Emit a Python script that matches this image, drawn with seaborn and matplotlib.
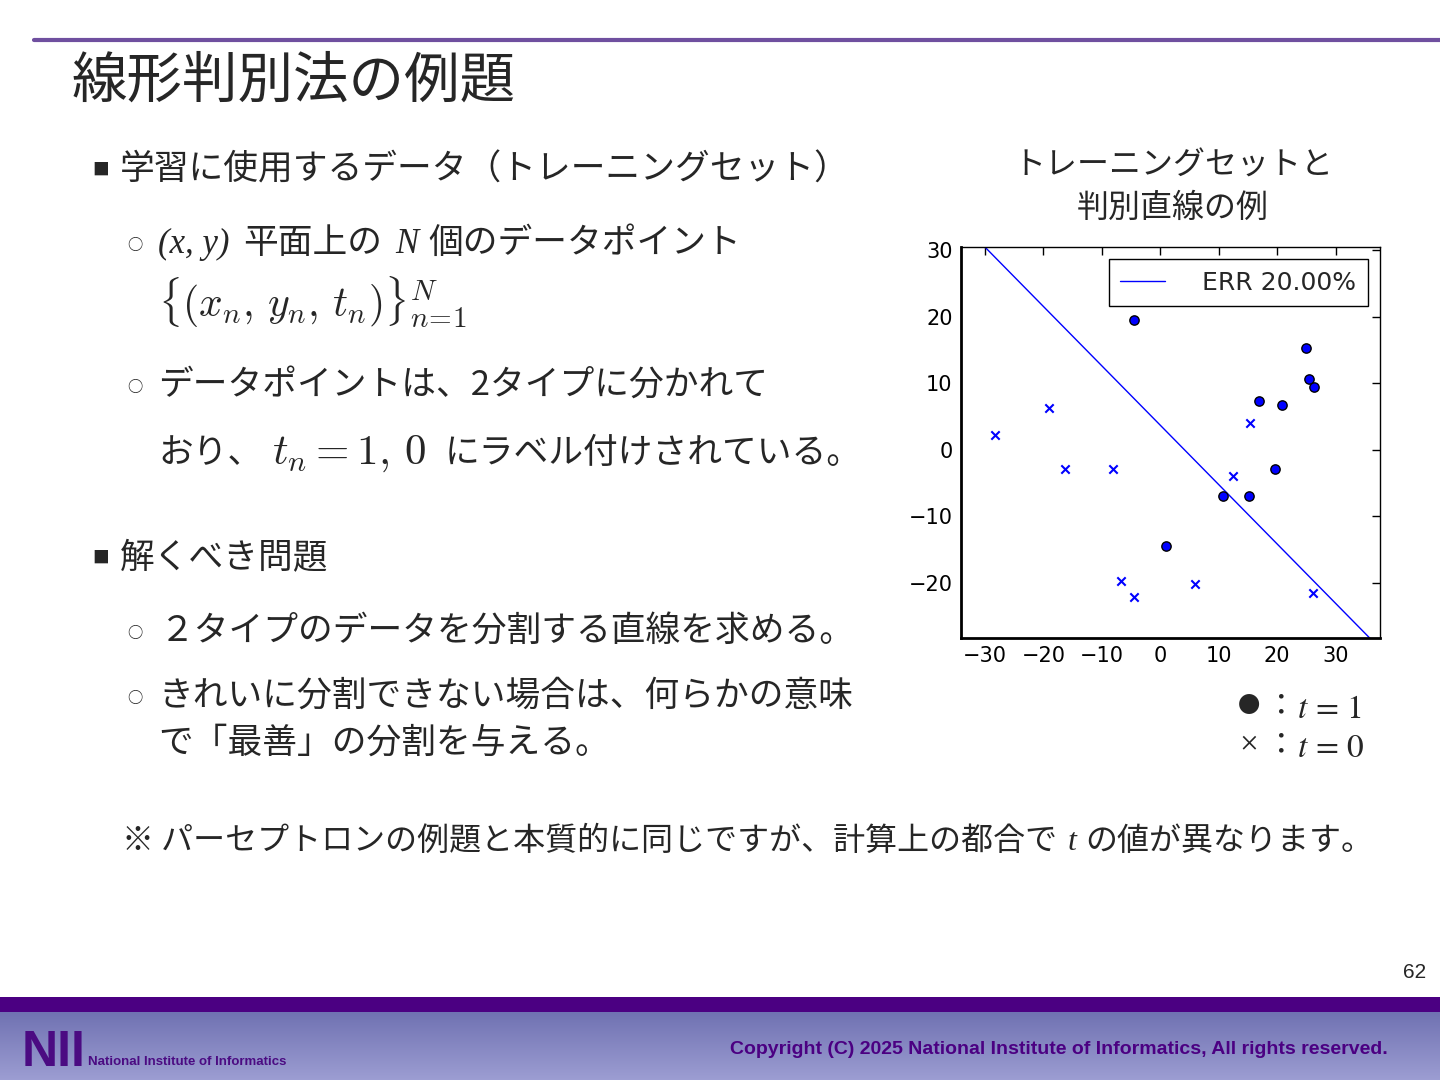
import numpy as np
import pandas as pd
import matplotlib
matplotlib.use('Agg')
import matplotlib.pyplot as plt
from matplotlib.patches import Rectangle
from matplotlib.colors import LinearSegmentedColormap
import seaborn as sns

# training set (t=1: dots, t=0: crosses)
t1_x = [-4.5, 24.9, 25.5, 26.3, 16.9, 20.8, 19.6, 10.8, 15.2, 1.0]
t1_y = [19.5, 15.3, 10.6, 9.5, 7.3, 6.7, -2.9, -6.9, -6.9, -14.4]
t0_x = [-28.3, -19.1, -16.3, -8.1, 15.3, 12.5, -6.8, -4.5, 6.0, 26.2]
t0_y = [2.3, 6.3, -2.9, -2.9, 4.1, -3.9, -19.8, -22.2, -20.2, -21.6]
# discriminant line y = slope*x + intercept
line_slope = -0.893
line_intercept = 3.7
err_rate = 20.0
x_ticks = [-30, -20, -10, 0, 10, 20, 30]
y_ticks = [-20, -10, 0, 10, 20, 30]
x_lim = (-34.1, 37.6)
y_lim = (-28.3, 30.5)

df = pd.DataFrame({'x': t1_x + t0_x, 'y': t1_y + t0_y,
                   't': [1] * len(t1_x) + [0] * len(t0_x)})

sns.set_style('white')
plt.rcParams['font.family'] = ['Noto Sans CJK JP', 'DejaVu Sans']

W, H = 1440, 1080
fig = plt.figure(figsize=(W / 100, H / 100), dpi=100)


def put(x, y, s, **kw):
    kw.setdefault('va', 'baseline')
    kw.setdefault('ha', 'left')
    return fig.text(x / W, 1 - y / H, s, **kw)


# slide background pieces (pixel coords)
bg = fig.add_axes([0, 0, 1, 1])
bg.patch.set_alpha(0)
grad = np.linspace(0, 1, 68).reshape(-1, 1)
cm_footer = LinearSegmentedColormap.from_list('footer', ['#7072b2', '#9c9dd2'])
bg.imshow(grad, extent=[0, W, H, 1012], cmap=cm_footer, aspect='auto')
bg.add_patch(Rectangle((0, 997), W, 15, color='#4b0082', lw=0))
bg.plot([34, W], [39.5, 39.5], color='#6f4f9f', lw=3)
bg.set_xlim(0, W)
bg.set_ylim(H, 0)
bg.axis('off')

serif = ['Liberation Serif', 'DejaVu Serif']

# title and bullets
put(72, 98, '線形判別法の例題', fontsize=40)
put(101, 175, '■', fontsize=12, ha='center')
put(120, 180, '学習に使用するデータ（トレーニングセット）', fontsize=25)
put(135, 250, '○', fontsize=11, ha='center')
put(158, 253, '(x, y)', fontsize=25, family=serif, style='italic')
put(243, 253, '平面上の', fontsize=25)
put(395, 253, 'N', fontsize=25, family=serif, style='italic')
put(428, 253, '個のデータポイント', fontsize=25)
put(158, 317, r'$\{(x_n,\, y_n,\, t_n)\}_{n\!=\!1}^N$', fontsize=30,
    math_fontfamily='cm')
put(135, 392, '○', fontsize=11, ha='center')
put(158, 395, 'データポイントは、2タイプに分かれて', fontsize=25)
put(158, 463, 'おり、', fontsize=25)
put(272, 464, r'$t_n = 1,\, 0$', fontsize=31, math_fontfamily='cm')
put(445, 463, 'にラベル付けされている。', fontsize=25)
put(101, 563, '■', fontsize=12, ha='center')
put(120, 568, '解くべき問題', fontsize=25)
put(135, 638, '○', fontsize=11, ha='center')
put(160, 641, '２タイプのデータを分割する直線を求める。', fontsize=25)
put(135, 703, '○', fontsize=11, ha='center')
put(158, 706, 'きれいに分割できない場合は、何らかの意味', fontsize=25)
put(158, 753, 'で「最善」の分割を与える。', fontsize=25)
put(122, 850, '※ パーセプトロンの例題と本質的に同じですが、計算上の都合で', fontsize=23)
put(1068, 850, 't', fontsize=23, family=serif, style='italic')
put(1085, 850, 'の値が異なります。', fontsize=23)

# chart title
put(1173, 175, 'トレーニングセットと', fontsize=23, ha='center')
put(1173, 217, '判別直線の例', fontsize=23, ha='center')

# chart
ax = fig.add_axes([961 / W, (H - 638) / H, 419 / W, 391 / H])
sns.scatterplot(data=df[df.t == 1], x='x', y='y', marker='o', color='blue',
                edgecolor='black', linewidth=1, s=45, ax=ax, legend=False, zorder=3)
sns.scatterplot(data=df[df.t == 0], x='x', y='y', marker='x', color='blue',
                linewidth=1.5, s=36, ax=ax, legend=False, zorder=3)
line_x = np.array(x_lim)
line_y = line_slope * line_x + line_intercept
sns.lineplot(x=line_x, y=line_y, color='blue', lw=1, ax=ax,
             label=f'ERR {err_rate:.2f}%')
ax.set_xlim(*x_lim)
ax.set_ylim(*y_lim)
ax.set_xticks(x_ticks)
ax.set_yticks(y_ticks)
ax.set_xlabel('')
ax.set_ylabel('')
ax.tick_params(direction='in', length=6, width=1, top=True, right=True,
               labelsize=15, pad=6, colors='black')
for lbl in ax.get_xticklabels() + ax.get_yticklabels():
    lbl.set_fontfamily('DejaVu Sans')
for side in ['left', 'bottom']:
    ax.spines[side].set_linewidth(2)
    ax.spines[side].set_color('black')
for side in ['top', 'right']:
    ax.spines[side].set_linewidth(1)
    ax.spines[side].set_color('black')
ax.legend(loc='upper right', prop={'family': 'DejaVu Sans', 'size': 18},
          frameon=True, fancybox=False, edgecolor='black', framealpha=1,
          handlelength=1.8, handletextpad=1.5, borderpad=0.45,
          borderaxespad=0.5)
ax.get_legend().get_frame().set_linewidth(1)

# marker key under the chart
put(1249, 706, '●', fontsize=16, ha='center', va='center')
put(1249, 745, '×', fontsize=24, ha='center', va='center', family=serif)
put(1280, 706, '：', fontsize=22, ha='center', va='center')
put(1280, 745, '：', fontsize=22, ha='center', va='center')
put(1297, 718, r'$t\,=\,1$', fontsize=24, math_fontfamily='stix')
put(1297, 757, r'$t\,=\,0$', fontsize=24, math_fontfamily='stix')

# page number and footer
put(1426, 972, '62', fontsize=15, ha='right', va='center', family='Liberation Sans')
put(22, 1066, 'NII', fontsize=36, fontweight='heavy', color='#4b0b82',
    family='Liberation Sans')
put(88, 1065, 'National Institute of Informatics', fontsize=9.5,
    fontweight='bold', color='#4b0b82', family='Liberation Sans')
put(1388, 1050, 'Copyright (C) 2025 National Institute of Informatics, All rights reserved.',
    fontsize=14, fontweight='bold', color='#4b0082', ha='right', va='center',
    family='Liberation Sans')

fig.savefig('out.png', dpi=100)
